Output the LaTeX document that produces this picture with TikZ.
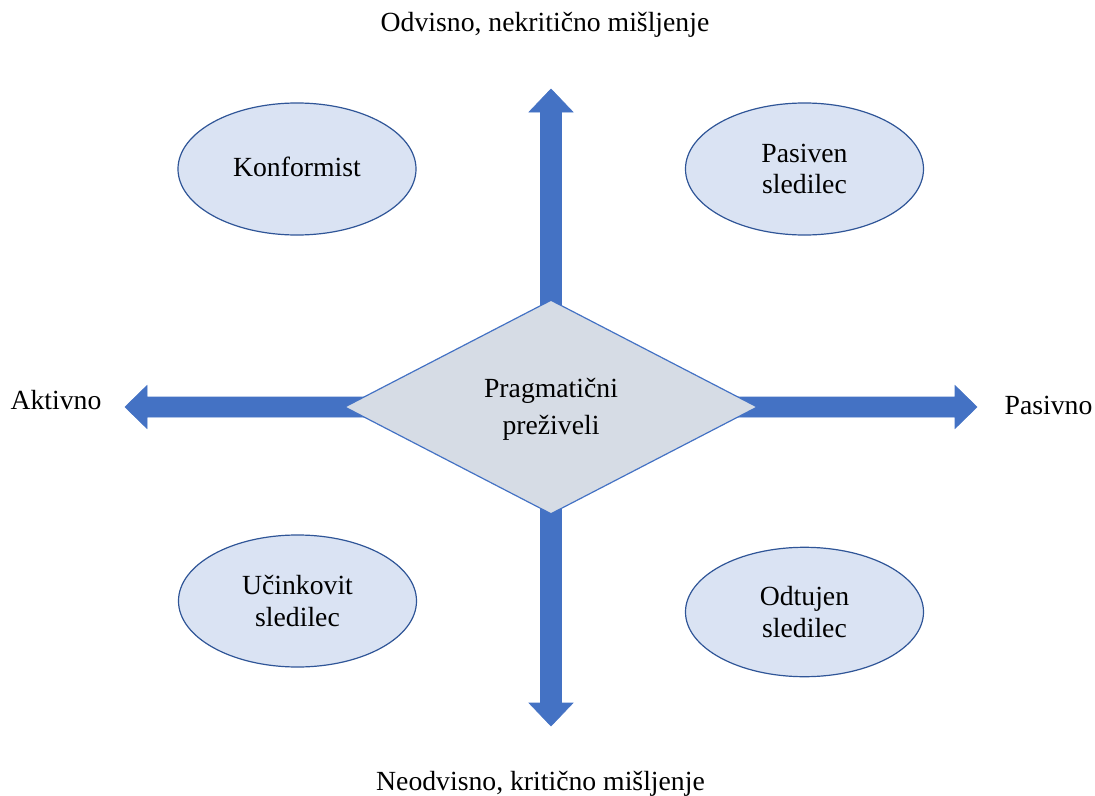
\documentclass[tikz,border=0pt]{standalone}
\usepackage{fontspec}
\setmainfont{Liberation Serif}
\usetikzlibrary{shapes.geometric}
\definecolor{arrowblue}{HTML}{4472C4}
\definecolor{ellfill}{HTML}{DAE3F3}
\definecolor{ellline}{HTML}{2F5597}
\definecolor{diafill}{HTML}{D6DCE5}
\definecolor{dialine}{HTML}{4472C4}
\tikzset{
  lbl/.style={font=\fontsize{13.85bp}{16bp}\selectfont, text=black, inner sep=0pt},
  quad/.style={ellipse, draw=ellline, fill=ellfill, line width=0.6bp,
    minimum width=119bp, minimum height=66bp, inner sep=0pt, align=center,
    font=\fontsize{13.85bp}{15.75bp}\selectfont},
  centre/.style={diamond, draw=dialine, fill=diafill, line width=0.6bp,
    minimum width=206.5bp, minimum height=107bp, inner sep=0pt, align=center,
    font=\fontsize{13.85bp}{18.5bp}\selectfont},
  blockarrow/.style={fill=arrowblue, draw=arrowblue, line width=0.3bp, line join=miter}
}
\begin{document}
\begin{tikzpicture}[x=0.5bp, y=-0.5bp]
\useasboundingbox (0,0) rectangle (1095,796);
% arrow coordinates
\coordinate (vtop) at (551,89);
\coordinate (vbot) at (551,726);
\coordinate (hleft) at (125,407);
\coordinate (hright) at (977,407);
% vertical block arrow
\fill[blockarrow] (vtop) -- (573,112) -- (561.5,112) -- (561.5,703) -- (573,703)
  -- (vbot) -- (529,703) -- (540.5,703) -- (540.5,112) -- (529,112) -- cycle;
% horizontal block arrow
\fill[blockarrow] (hleft) -- (147,385.5) -- (147,397) -- (955,397) -- (955,385.5)
  -- (hright) -- (955,428.5) -- (955,417) -- (147,417) -- (147,428.5) -- cycle;
% centre diamond
\node[centre] (prag) at (551,407) {};
\node[lbl, align=center, font=\fontsize{13.85bp}{18.5bp}\selectfont] (pragtxt) at (551,409) {Pragmatični\\preživeli};
% quadrant ellipses
\node[quad] (konf) at (297,169) {};
\node[lbl] (konftxt) at (297,167) {Konformist};
\node[quad] (pas) at (804.5,169) {Pasiven\\sledilec};
\node[quad] (ucin) at (297.5,601) {Učinkovit\\sledilec};
\node[quad, minimum height=64.7bp] (odt) at (804.5,612) {Odtujen\\sledilec};
% axis labels
\node[lbl, anchor=base] (top) at (545,31.5) {Odvisno, nekritično mišljenje};
\node[lbl, anchor=base] (bottom) at (540.5,790) {Neodvisno, kritično mišljenje};
\node[lbl, anchor=base] (akt) at (56,409) {Aktivno};
\node[lbl, anchor=base] (pasv) at (1048.5,414) {Pasivno};
\end{tikzpicture}
\end{document}
